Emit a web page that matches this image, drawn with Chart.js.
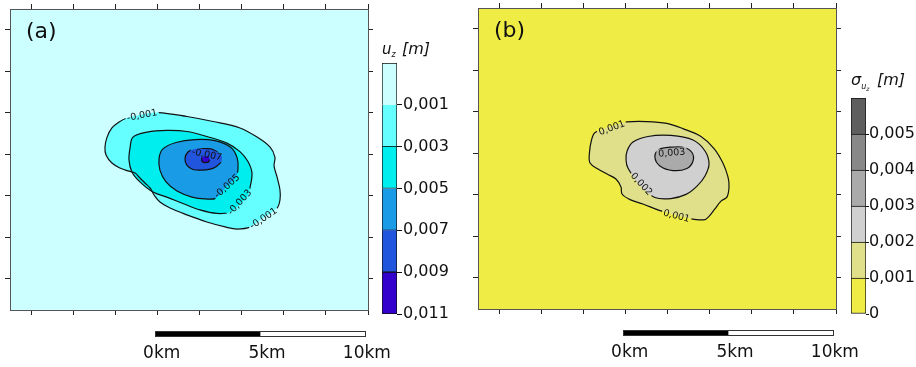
<!DOCTYPE html>
<html><head><meta charset="utf-8">
<script src="https://cdn.jsdelivr.net/npm/chart.js@4.4.1/dist/chart.umd.min.js"></script>
<style>
html,body{margin:0;padding:0;background:#fff;width:916px;height:367px;overflow:hidden;position:relative;}
canvas{position:absolute;}
</style></head><body>
<canvas id="mapA" width="458" height="367" style="left:0;top:0"></canvas>
<canvas id="mapB" width="448" height="368" style="left:468px;top:-1px"></canvas>
<canvas id="cbA" width="86" height="300" style="left:372px;top:30px"></canvas>
<canvas id="cbB" width="75" height="270" style="left:841px;top:60px"></canvas>
<script>
// ---------- axes (km) ----------
const xRange = [0, 17];
const yRange = [0, 14.5];
const xTicks = [1, 3, 5, 7, 9, 11, 13, 15, 17];
const yTicks = [1.5, 3.5, 5.5, 7.5, 9.5, 11.5, 13.5];

// ---------- panel (a): u_z contours [x km, y km] ----------
const uzLevels = [-0.001, -0.003, -0.005, -0.007, -0.009];
const uzContour001 = [[6.27,9.42],[7.03,9.51],[8.40,9.32],[9.64,9.08],[10.92,8.77],[11.73,8.33],[12.35,7.85],[12.58,7.37],[12.54,6.94],[12.68,6.41],[12.82,5.78],[12.82,5.30],[12.68,4.91],[12.04,4.45],[11.40,3.99],[10.78,3.90],[10.26,3.99],[9.35,4.24],[8.40,4.58],[7.60,4.91],[7.12,5.20],[6.84,5.54],[6.65,5.88],[6.41,6.12],[6.17,6.36],[5.94,6.60],[5.60,6.70],[5.22,6.84],[4.84,7.08],[4.56,7.47],[4.51,7.85],[4.61,8.33],[4.84,8.77],[5.18,9.06],[5.56,9.25]];
const uzContour003 = [[10.87,5.06],[10.45,4.72],[9.83,4.65],[9.02,4.82],[8.21,5.13],[7.45,5.44],[6.79,5.68],[6.17,6.17],[5.79,6.65],[5.65,7.23],[5.70,7.80],[5.84,8.33],[6.51,8.57],[7.45,8.65],[8.40,8.60],[9.35,8.36],[10.30,8.04],[10.92,7.63],[11.30,7.15],[11.49,6.60],[11.40,5.92],[11.25,5.44]];
const uzContour005 = [[10.30,5.97],[9.78,5.39],[9.26,5.35],[8.64,5.44],[7.93,5.73],[7.41,6.17],[7.12,6.74],[7.08,7.32],[7.26,7.76],[7.88,8.07],[8.78,8.21],[9.73,8.16],[10.49,7.83],[10.78,7.35],[10.83,6.84],[10.73,6.41]];
const uzContour007 = [[9.26,7.78],[9.64,7.73],[9.97,7.51],[10.07,7.30],[9.97,7.06],[9.64,6.82],[9.16,6.74],[8.69,6.77],[8.40,6.98],[8.31,7.30],[8.45,7.61],[8.78,7.76]];
const uzContour009 = [[9.09,7.25],[9.14,7.37],[9.28,7.39],[9.43,7.37],[9.47,7.25],[9.43,7.13],[9.28,7.10],[9.14,7.13]];
const uzLabelText = ['-0,001', '-0,001', '-0,003', '-0,005', '-0,007'];
const uzLabelX = [6.27, 12.03, 10.90, 10.30, 9.35];
const uzLabelY = [9.39, 4.42, 5.20, 5.97, 7.49];
const uzLabelAngle = [-11, -34, -48, -42, 12];

// ---------- panel (b): sigma_uz contours ----------
const sdLevels = [0.001, 0.002, 0.003];
const sdContour001 = [[6.32,8.82],[7.08,9.01],[8.02,9.03],[8.97,8.94],[9.73,8.69],[10.59,8.31],[11.21,7.73],[11.63,7.03],[11.87,6.36],[11.92,5.88],[11.82,5.39],[11.54,5.20],[11.25,4.82],[10.97,4.46],[10.73,4.29],[9.69,4.43],[8.64,4.74],[7.83,5.06],[7.22,5.27],[6.84,5.54],[6.79,5.88],[6.55,6.26],[6.13,6.50],[5.70,6.74],[5.32,7.03],[5.29,7.51],[5.39,8.14],[5.56,8.50]];
const sdContour002 = [[7.69,5.92],[7.12,6.79],[7.03,7.18],[7.08,7.61],[7.36,8.04],[8.07,8.31],[9.16,8.36],[10.21,8.14],[10.78,7.61],[10.97,6.98],[10.78,6.41],[10.40,5.92],[9.88,5.52],[9.16,5.32],[8.40,5.37]];
const sdContour003 = [[9.12,7.80],[8.59,7.68],[8.40,7.32],[8.64,6.89],[9.26,6.67],[9.92,6.77],[10.21,7.13],[10.16,7.54],[9.78,7.78]];
const sdLabelText = ['0,001', '0,001', '0,002', '0,003'];
const sdLabelX = [6.35, 9.43, 7.77, 9.20];
const sdLabelY = [8.73, 4.49, 6.02, 7.53];
const sdLabelAngle = [-20, 15, 47, -5];

// ---------- colour bars ----------
const uzBounds = [-0.011, -0.009, -0.007, -0.005, -0.003, -0.001, 0.001];
const uzColors = ['#3300cc', '#2255dd', '#1a9be6', '#00eeee', '#66ffff', '#ccffff'];
const uzTickValues = [-0.011, -0.009, -0.007, -0.005, -0.003, -0.001];
const uzTickLabels = ['0,011', '0,009', '0,007', '0,005', '0,003', '0,001'];
const sdBounds = [0, 0.001, 0.002, 0.003, 0.004, 0.005, 0.006];
const sdColors = ['#efed45', '#e0e08a', '#d0d0d0', '#aaaaaa', '#888888', '#5e5e5e'];
const sdTickValues = [0, 0.001, 0.002, 0.003, 0.004, 0.005];
const sdTickLabels = ['0', '0,001', '0,002', '0,003', '0,004', '0,005'];

// ---------- scale bar ----------
const scaleBarStart = 6.9;
const scaleBarTicks = [0, 5, 10];
const scaleBarLabels = ['0km', '5km', '10km'];

const FONT = "'DejaVu Sans', sans-serif";
Chart.defaults.font.family = FONT;

function axis(position, key, range, ticks) {
  return {
    type: 'linear', position, axis: key, min: range[0], max: range[1], display: true,
    afterBuildTicks: s => { s.ticks = ticks.map(v => ({value: v})); },
    ticks: {display: false},
    grid: {drawOnChartArea: false, drawTicks: true, tickLength: 5, color: '#222', lineWidth: 1},
    border: {display: true, color: '#555', width: 1}
  };
}

function contourDataset(points, color, order) {
  const pts = points.map(p => ({x: p[0], y: p[1]}));
  pts.push({x: points[0][0], y: points[0][1]});
  return {data: pts, showLine: true, fill: 'shape', backgroundColor: color, borderColor: '#111',
    borderWidth: 1.2, pointRadius: 0, pointHoverRadius: 0, tension: 0.35, order};
}

function labelBoxes(chart, cfg) {
  const ctx = chart.ctx;
  ctx.save();
  ctx.font = '9.5px ' + FONT;
  const boxes = cfg.labelText.map((t, i) => ({
    t,
    cx: chart.scales.x.getPixelForValue(cfg.labelX[i]),
    cy: chart.scales.y.getPixelForValue(cfg.labelY[i]),
    w: ctx.measureText(t).width + 3, h: 9,
    rot: cfg.labelAngle[i] * Math.PI / 180
  }));
  ctx.restore();
  return boxes;
}

function mapPlugin(cfg) {
  return {
    id: 'mapDecor',
    beforeDraw(chart) {
      const {ctx, chartArea: a} = chart;
      ctx.save();
      ctx.fillStyle = cfg.background;
      ctx.fillRect(a.left, a.top, a.right - a.left, a.bottom - a.top);
      ctx.restore();
    },
    beforeDatasetDraw(chart) {
      const ctx = chart.ctx;
      const boxes = labelBoxes(chart, cfg);
      ctx.save();
      ctx.beginPath();
      ctx.rect(0, 0, chart.width, chart.height);
      boxes.forEach(b => {
        const c = Math.cos(b.rot), s = Math.sin(b.rot), hw = b.w / 2, hh = b.h / 2;
        const cs = [[-hw, -hh], [hw, -hh], [hw, hh], [-hw, hh]].map(([u, v]) => [b.cx + u * c - v * s, b.cy + u * s + v * c]);
        ctx.moveTo(cs[0][0], cs[0][1]);
        for (let k = 1; k < 4; k++) ctx.lineTo(cs[k][0], cs[k][1]);
        ctx.closePath();
      });
      ctx.clip('evenodd');
    },
    afterDatasetDraw(chart) { chart.ctx.restore(); },
    afterDatasetsDraw(chart) {
      const ctx = chart.ctx;
      const boxes = labelBoxes(chart, cfg);
      ctx.save();
      ctx.font = '9.5px ' + FONT;
      ctx.fillStyle = '#111';
      ctx.textAlign = 'center';
      ctx.textBaseline = 'middle';
      boxes.forEach(b => {
        ctx.save(); ctx.translate(b.cx, b.cy); ctx.rotate(b.rot); ctx.fillText(b.t, 0, 0.5); ctx.restore();
      });
      ctx.restore();
    },
    afterDraw(chart) {
      const {ctx, chartArea: a} = chart;
      const xs = chart.scales.x;
      ctx.save();
      ctx.fillStyle = '#111';
      ctx.font = '22px ' + FONT;
      ctx.textBaseline = 'alphabetic';
      ctx.textAlign = 'left';
      ctx.fillText(cfg.letter, a.left + 16, a.top + 29);
      // scale bar
      const px = scaleBarTicks.map(v => xs.getPixelForValue(scaleBarStart + v));
      const top = a.bottom + 21, h = 6;
      ctx.fillStyle = '#000';
      ctx.fillRect(px[0], top, px[1] - px[0], h);
      ctx.fillStyle = '#fff';
      ctx.fillRect(px[1], top, px[2] - px[1], h);
      ctx.strokeStyle = '#333'; ctx.lineWidth = 1;
      ctx.strokeRect(Math.round(px[0]) + 0.5, top + 0.5, Math.round(px[2] - px[0]) - 1, h - 1);
      ctx.fillStyle = '#111';
      ctx.font = '17px ' + FONT;
      ctx.textAlign = 'right';
      scaleBarLabels.forEach((l, i) => ctx.fillText(l, px[i] + 25, a.bottom + 48));
      ctx.restore();
    }
  };
}

function makeMap(id, cfg) {
  const n = cfg.contours.length;
  const datasets = cfg.contours.map((c, i) => contourDataset(c, cfg.colors[i], n - i));
  return new Chart(document.getElementById(id), {
    type: 'scatter',
    data: {datasets},
    options: {
      responsive: false, animation: false, events: [],
      layout: {padding: cfg.padding},
      plugins: {legend: {display: false}, tooltip: {enabled: false}, filler: {drawTime: 'beforeDatasetsDraw'}},
      scales: {
        x: axis('bottom', 'x', xRange, xTicks),
        x2: axis('top', 'x', xRange, xTicks),
        y: axis('left', 'y', yRange, yTicks),
        y2: axis('right', 'y', yRange, yTicks)
      }
    },
    plugins: [mapPlugin(cfg)]
  });
}

function makeColorbar(id, cfg) {
  const datasets = cfg.colors.map((col, i) => ({
    data: [[cfg.bounds[i], cfg.bounds[i + 1]]],
    backgroundColor: col, borderColor: '#111', borderWidth: 1,
    borderSkipped: i === 0 ? false : 'start',
    barPercentage: 1, categoryPercentage: 1, grouped: false
  }));
  return new Chart(document.getElementById(id), {
    type: 'bar',
    data: {labels: [''], datasets},
    options: {
      responsive: false, animation: false, events: [],
      layout: {padding: cfg.padding},
      plugins: {legend: {display: false}, tooltip: {enabled: false}},
      scales: {
        x: {display: false},
        y: {
          position: 'right', min: cfg.bounds[0], max: cfg.bounds[cfg.bounds.length - 1],
          afterBuildTicks: s => { s.ticks = cfg.tickValues.map(v => ({value: v})); },
          afterFit: s => { s.width = cfg.axisWidth; },
          ticks: {callback: (v, i) => cfg.tickLabels[i], color: '#111', font: {family: FONT, size: 16},
            padding: cfg.tickPad, autoSkip: false, maxRotation: 0},
          grid: {drawOnChartArea: false, drawTicks: true, tickLength: cfg.tickLen, color: '#111'},
          border: {display: false}
        }
      }
    },
    plugins: [{id: 'cbTitle', afterDraw(chart) { cfg.title(chart.ctx, chart.chartArea); }}]
  });
}

makeMap('mapA', {
  contours: [uzContour001, uzContour003, uzContour005, uzContour007, uzContour009],
  colors: ['#66ffff', '#00eeee', '#1a9be6', '#2255dd', '#3300cc'],
  background: '#ccffff', letter: '(a)',
  labelText: uzLabelText, labelX: uzLabelX, labelY: uzLabelY, labelAngle: uzLabelAngle,
  padding: {left: 5, top: 4, right: 85, bottom: 52}
});
makeMap('mapB', {
  contours: [sdContour001, sdContour002, sdContour003],
  colors: ['#e0e08a', '#d0d0d0', '#aaaaaa'],
  background: '#efed45', letter: '(b)',
  labelText: sdLabelText, labelX: sdLabelX, labelY: sdLabelY, labelAngle: sdLabelAngle,
  padding: {left: 5, top: 4, right: 75, bottom: 53}
});

makeColorbar('cbA', {
  bounds: uzBounds, colors: uzColors, tickValues: uzTickValues, tickLabels: uzTickLabels,
  padding: {left: 10, top: 33, right: 0, bottom: 16}, axisWidth: 61, tickLen: 5, tickPad: 1,
  title(ctx, a) {
    ctx.save(); ctx.fillStyle = '#111'; ctx.textBaseline = 'alphabetic'; ctx.textAlign = 'left';
    const b = a.top - 9;
    ctx.font = 'italic 15px ' + FONT; ctx.fillText('u', a.left, b);
    const w = ctx.measureText('u').width;
    ctx.font = 'italic 8px ' + FONT; ctx.fillText('z', a.left + w, b + 3);
    ctx.font = 'italic 16px ' + FONT; ctx.fillText('[m]', a.left + 20, b);
    ctx.restore();
  }
});
makeColorbar('cbB', {
  bounds: sdBounds, colors: sdColors, tickValues: sdTickValues, tickLabels: sdTickLabels,
  padding: {left: 10, top: 38, right: 0, bottom: 16}, axisWidth: 50, tickLen: 3, tickPad: 0,
  title(ctx, a) {
    ctx.save(); ctx.fillStyle = '#111'; ctx.textBaseline = 'alphabetic'; ctx.textAlign = 'left';
    const b = a.top - 13;
    ctx.font = 'italic 16px ' + FONT; ctx.fillText('σ', a.left, b);
    const w = ctx.measureText('σ').width;
    ctx.font = 'italic 8px ' + FONT; ctx.fillText('u', a.left + w, b + 4);
    ctx.font = 'italic 6px ' + FONT; ctx.fillText('z', a.left + w + 5, b + 6);
    ctx.font = 'italic 16px ' + FONT; ctx.fillText('[m]', a.left + 26, b);
    ctx.restore();
  }
});
</script>
</body></html>
